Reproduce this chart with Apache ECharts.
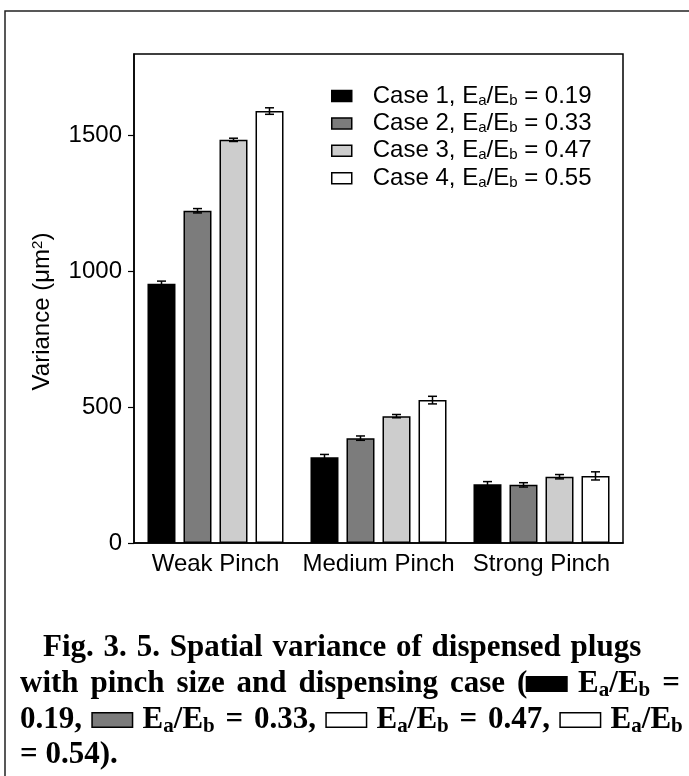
<!DOCTYPE html>
<html><head><meta charset="utf-8">
<script src="https://cdn.jsdelivr.net/npm/echarts@6/dist/echarts.min.js"></script>
<style>html,body{margin:0;padding:0;background:#fff}#c{width:689px;height:776px}</style>
</head><body><div id="c"></div>
<script>
const categories = ['Weak Pinch', 'Medium Pinch', 'Strong Pinch'];
const caseNames = ['Case 1', 'Case 2', 'Case 3', 'Case 4'];
const ratios = ['0.19', '0.33', '0.47', '0.55'];
const case1 = [954, 316, 216];
const case2 = [1223, 386, 214];
const case3 = [1484, 467, 244];
const case4 = [1590, 526, 247];
const err1 = [10, 10, 10];
const err2 = [8, 8, 8];
const err3 = [6, 6, 8];
const err4 = [12, 14, 15];
const yTicks = [0, 500, 1000, 1500];

const values = [case1, case2, case3, case4];
const errors = [err1, err2, err3, err4];
const fills = ['#000000', '#7c7c7c', '#cdcdcd', '#ffffff'];
const FONT = '"Liberation Sans", Arial, sans-serif';
const SERIF = '"Liberation Serif", "Times New Roman", serif';
const BAR_W = 28, BAR_GAP = 8;

const chart = echarts.init(document.getElementById('c'), null, {renderer: 'canvas'});

const series = [];
values.forEach((v, i) => {
  series.push({
    type: 'bar', name: caseNames[i], data: v,
    barWidth: BAR_W, barGap: (BAR_GAP / BAR_W * 100).toFixed(1) + '%',
    itemStyle: {color: fills[i], borderColor: '#000', borderWidth: 1.5},
    z: 2
  });
});
values.forEach((v, i) => {
  series.push({
    type: 'custom', name: 'err' + i, z: 5, silent: true,
    data: v.map((val, k) => [k, val, errors[i][k]]),
    renderItem: function (params, api) {
      const k = api.value(0), val = api.value(1), e = api.value(2);
      const off = (i - 1.5) * (BAR_W + BAR_GAP);
      const top = api.coord([k, val + e]);
      const bot = api.coord([k, val - e]);
      const x = top[0] + off;
      const st = {stroke: '#000', lineWidth: 1.5};
      return {type: 'group', children: [
        {type: 'line', shape: {x1: x, y1: top[1], x2: x, y2: bot[1]}, style: st},
        {type: 'line', shape: {x1: x - 4.5, y1: top[1], x2: x + 4.5, y2: top[1]}, style: st},
        {type: 'line', shape: {x1: x - 4.5, y1: bot[1], x2: x + 4.5, y2: bot[1]}, style: st}
      ]};
    }
  });
});

const FS = 24;
const subRich = {
  t: {fontSize: FS, fontFamily: FONT, color: '#000', lineHeight: 24},
  sub: {fontSize: 15, fontFamily: FONT, color: '#000', verticalAlign: 'bottom', lineHeight: 24, padding: [11, 0, 0, 0]},
  sp: {width: 16, fontSize: FS}
};

const CF = 31;
const boxBase = {borderColor: '#000', borderWidth: 1.5, width: 39, height: 13, fontSize: 4};
const spBase = {fontSize: CF, fontWeight: 'bold', fontFamily: SERIF, lineHeight: 34};
const capRich = {
  t: {fontSize: CF, fontWeight: 'bold', fontFamily: SERIF, color: '#000', lineHeight: 34},
  sub: {fontSize: 21, fontWeight: 'bold', fontFamily: SERIF, color: '#000', lineHeight: 34, verticalAlign: 'bottom', padding: [12, 0, 0, 0]},
  s1: Object.assign({width: 9.8}, spBase),
  s2: Object.assign({width: 11.9}, spBase),
  s3: Object.assign({width: 10.8}, spBase),
  s4: Object.assign({width: 7.75}, spBase),
  bk: Object.assign({backgroundColor: '#000'}, boxBase),
  gy: Object.assign({backgroundColor: '#7c7c7c'}, boxBase),
  wh: Object.assign({backgroundColor: '#fff'}, boxBase)
};
const EAB = '{t|E}{sub|a}{t|/E}{sub|b}';
function words(str, sp) {
  return str.split(' ').map(w => w ? '{t|' + w + '}' : '').join('{' + sp + '| }');
}
const line1 = words('Fig. 3. 5. Spatial variance of dispensed plugs', 's1');
const line2 = words('with pinch size and dispensing case (', 's2') + '{bk| }{s2| }' + EAB + words(' =', 's2');
const line3 = words('0.19, ', 's3') + '{gy| }{s3| }' + EAB + words(' = 0.33, ', 's3') + '{wh| }{s3| }' + EAB +
  words(' = 0.47, ', 's3') + '{wh| }{s3| }' + EAB;
const line4 = words('= 0.54).', 's4');

const option = {
  backgroundColor: '#fff',
  animation: false,
  grid: {left: 134, right: 66, top: 54, bottom: 233, show: true, borderColor: '#000', borderWidth: 1.5, backgroundColor: 'transparent'},
  legend: {
    data: caseNames, left: 326, top: 77, orient: 'vertical', icon: 'rect',
    itemWidth: 20, itemHeight: 11, itemGap: 1.4,
    itemStyle: {borderColor: '#000', borderWidth: 1.5},
    formatter: function (name) {
      const i = caseNames.indexOf(name);
      return '{sp| }{t|' + name + ', E}{sub|a}{t|/E}{sub|b}{t| = ' + ratios[i] + '}';
    },
    textStyle: {rich: subRich, fontSize: FS, fontFamily: FONT}
  },
  xAxis: {
    type: 'category', data: categories,
    axisLine: {lineStyle: {color: '#000', width: 1.5}},
    axisTick: {alignWithLabel: true, length: 7, lineStyle: {color: '#000', width: 1.2}},
    axisLabel: {color: '#000', fontSize: FS, fontFamily: FONT, margin: 9, interval: 0, hideOverlap: false}
  },
  yAxis: {
    type: 'value', min: 0, max: 1800,
    axisLine: {show: true, lineStyle: {color: '#000', width: 1.5}},
    axisTick: {show: true, length: 6, customValues: yTicks, lineStyle: {color: '#000', width: 1.2}},
    axisLabel: {color: '#000', fontSize: FS, fontFamily: FONT, margin: 12, customValues: yTicks, formatter: v => String(v)},
    splitLine: {show: false},
    name: 'Variance (\u03bcm{sup|2})', nameLocation: 'middle', nameGap: 80,
    nameTextStyle: {fontSize: FS, fontFamily: FONT, color: '#000', padding: [0, 26, 0, 0],
      rich: {sup: {fontSize: 15, fontFamily: FONT, color: '#000', verticalAlign: 'top', padding: [0, 0, 9, 0]}}}
  },
  graphic: [
    {type: 'rect', shape: {x: 5, y: 11, width: 720, height: 800}, style: {fill: 'none', stroke: '#222', lineWidth: 1.5}, silent: true},
    {type: 'text', left: 43, top: 632, style: {text: line1, rich: capRich}},
    {type: 'text', left: 20, top: 668, style: {text: line2, rich: capRich}},
    {type: 'text', left: 20, top: 704, style: {text: line3, rich: capRich}},
    {type: 'text', left: 20, top: 739, style: {text: line4, rich: capRich}}
  ],
  series: series
};
chart.setOption(option);
</script></body></html>
